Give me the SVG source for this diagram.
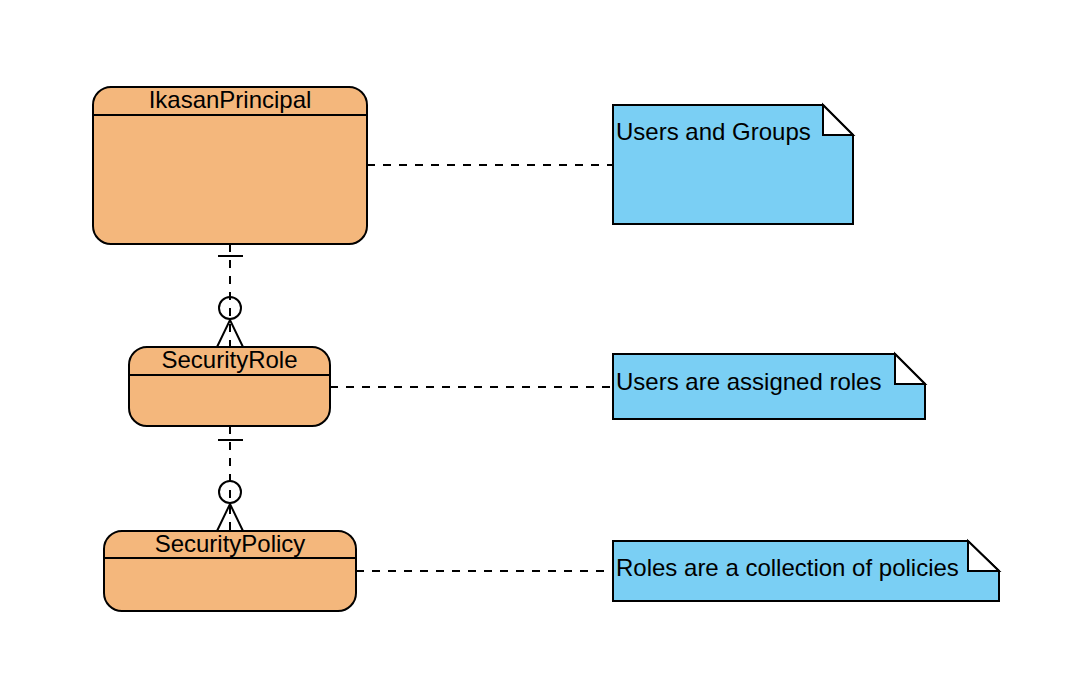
<svg xmlns="http://www.w3.org/2000/svg" width="1068" height="674" viewBox="0 0 1068 674">
<style>
.ent{fill:#F4B77C;stroke:#000;stroke-width:2}
.note{fill:#7ACFF4;stroke:#000;stroke-width:2}
.fold{fill:#fff;stroke:#000;stroke-width:2;stroke-linejoin:miter}
.sep{stroke:#000;stroke-width:2}
.t{font-family:"Liberation Sans",Arial,sans-serif;font-size:24px;fill:#000}
.c{text-anchor:middle}
.dash{stroke:#000;stroke-width:2;stroke-dasharray:8 8;fill:none}
.sol{stroke:#000;stroke-width:2;fill:none}
</style>
<rect width="1068" height="674" fill="#fff"/>
<g id="connectors">
<line class="dash" x1="367" y1="165" x2="613" y2="165"/>
<line class="dash" x1="330" y1="387" x2="613" y2="387"/>
<line class="dash" x1="356" y1="571" x2="613" y2="571"/>
<line class="dash" x1="230" y1="244" x2="230" y2="347"/>
<line class="sol" x1="218" y1="256" x2="243" y2="256"/>
<circle class="sol" cx="230" cy="308" r="11" fill="#fff"/>
<polyline class="sol" points="217,347 230,320 243,347"/>
<line class="dash" x1="230" y1="426" x2="230" y2="531"/>
<line class="sol" x1="218" y1="440" x2="243" y2="440"/>
<circle class="sol" cx="230" cy="492" r="11" fill="#fff"/>
<polyline class="sol" points="217,531 230,504 243,531"/>
</g>
<g id="IkasanPrincipal">
<rect class="ent" x="93" y="87" width="274" height="157" rx="18"/>
<line class="sep" x1="93" y1="115" x2="367" y2="115"/>
<text class="t c" x="230" y="108">IkasanPrincipal</text>
</g>
<g id="SecurityRole">
<rect class="ent" x="129" y="347" width="201" height="79" rx="18"/>
<line class="sep" x1="129" y1="375" x2="330" y2="375"/>
<text class="t c" x="229.5" y="368">SecurityRole</text>
</g>
<g id="SecurityPolicy">
<rect class="ent" x="104" y="531" width="252" height="80" rx="18"/>
<line class="sep" x1="104" y1="558" x2="356" y2="558"/>
<text class="t c" x="230" y="552">SecurityPolicy</text>
</g>
<g id="note1">
<path class="note" d="M613,105 H823 L853,135 V224 H613 Z"/>
<path class="fold" d="M823,105 V135 H853 Z"/>
<text class="t" x="616" y="140">Users and Groups</text>
</g>
<g id="note2">
<path class="note" d="M613,354 H895 L925,384 V419 H613 Z"/>
<path class="fold" d="M895,354 V384 H925 Z"/>
<text class="t" x="616" y="390">Users are assigned roles</text>
</g>
<g id="note3">
<path class="note" d="M613,541 H968 L999,571 V601 H613 Z"/>
<path class="fold" d="M968,541 V571 H999 Z"/>
<text class="t" x="616" y="576">Roles are a collection of policies</text>
</g>
</svg>
